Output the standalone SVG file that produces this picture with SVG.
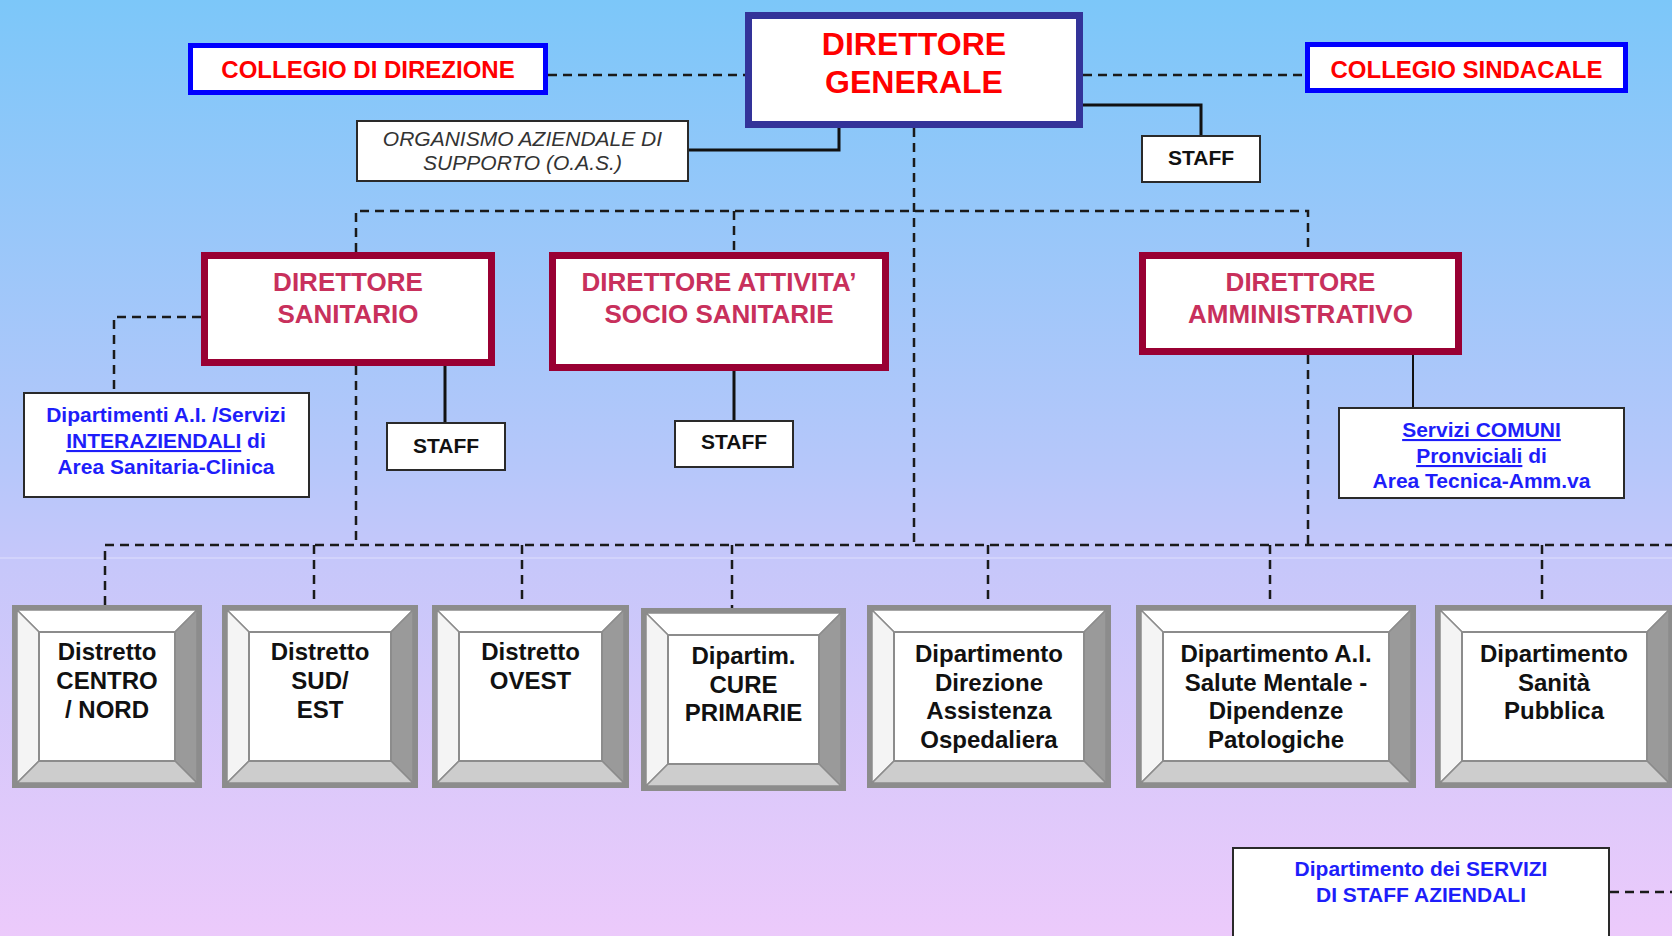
<svg xmlns="http://www.w3.org/2000/svg" width="1672" height="936" viewBox="0 0 1672 936">
<defs>
<linearGradient id="bg" x1="0" y1="0" x2="0" y2="1">
<stop offset="0" stop-color="#7cc7f9"/>
<stop offset="0.5" stop-color="#b6c7fa"/>
<stop offset="0.6" stop-color="#c6c7fa"/>
<stop offset="1" stop-color="#eccafb"/>
</linearGradient>
</defs>
<style>
text{font-family:"Liberation Sans",Arial,sans-serif;text-anchor:middle}
.dg{fill:#fff;stroke:#333399;stroke-width:7}
.col{fill:#fff;stroke:#0000ff;stroke-width:5}
.dir{fill:#fff;stroke:#990033;stroke-width:7}
.box{fill:#fff;stroke:#2a2a2a;stroke-width:2}
.red{fill:#ff0000;font-weight:bold}
.dirt{fill:#c8305c;font-weight:bold;font-size:26px}
.blk{fill:#111;font-weight:bold}
.blue{fill:#1e1efa;font-weight:bold;font-size:21px}
.it{fill:#333;font-style:italic;font-size:21px}
.bt{fill:#111;font-weight:bold;font-size:24px}
.frame{fill:#8c8c8c}
.bv{stroke:#8c8c8c;stroke-width:1.5;stroke-linejoin:round}
.bvt{fill:#ffffff}
.bvl{fill:#f4f4f4}
.bvr{fill:#9a9a9a}
.bvb{fill:#cdcdcd}
.face{fill:#fff;stroke:#8c8c8c;stroke-width:2}
.solid{fill:none;stroke:#111;stroke-width:3}
.thin{fill:none;stroke:#111;stroke-width:2}
.dash{fill:none;stroke:#1a1a1a;stroke-width:2.5;stroke-dasharray:9 6}
</style>
<rect x="0" y="0" width="1672" height="936" fill="url(#bg)"/>
<line x1="0" y1="558" x2="1672" y2="558" stroke="#ffffff" stroke-opacity="0.3" stroke-width="1.5"/>

<g id="connectors">
<path class="dash" d="M548 75H745"/>
<path class="dash" d="M1083 75H1305"/>
<path class="solid" d="M689 150H839V128"/>
<path class="solid" d="M1083 105H1201V135"/>
<path class="dash" d="M914 128V545"/>
<path class="dash" d="M356 252V211H1308V252"/>
<path class="dash" d="M734 211V252"/>
<path class="dash" d="M201 317H114V392"/>
<path class="solid" d="M445 366V422"/>
<path class="solid" d="M734 371V420"/>
<path class="thin" d="M1413 355V407"/>
<path class="dash" d="M356 366V545"/>
<path class="dash" d="M1308 355V545"/>
<path class="dash" d="M105 605V545H1672"/>
<path class="dash" d="M314 545V605"/>
<path class="dash" d="M522 545V605"/>
<path class="dash" d="M732 545V608"/>
<path class="dash" d="M988 545V605"/>
<path class="dash" d="M1270 545V605"/>
<path class="dash" d="M1542 545V605"/>
<path class="dash" d="M1610 892H1672"/>
</g>

<g id="direttore-generale">
<rect class="dg" x="748.5" y="15.5" width="331" height="109"/>
<text class="red" font-size="32" x="914" y="55">DIRETTORE</text>
<text class="red" font-size="32" x="914" y="93">GENERALE</text>
</g>
<g id="collegio-direzione">
<rect class="col" x="190.5" y="45.5" width="355" height="47"/>
<text class="red" font-size="24" x="368" y="78">COLLEGIO DI DIREZIONE</text>
</g>
<g id="collegio-sindacale">
<rect class="col" x="1307.5" y="44.5" width="318" height="46"/>
<text class="red" font-size="24" x="1466.5" y="78">COLLEGIO SINDACALE</text>
</g>
<g id="oas">
<rect class="box" x="357" y="121" width="331" height="60"/>
<text class="it" x="522.5" y="146">ORGANISMO AZIENDALE DI</text>
<text class="it" x="522.5" y="170">SUPPORTO (O.A.S.)</text>
</g>
<g id="staff-dg">
<rect class="box" x="1142" y="136" width="118" height="46"/>
<text class="blk" font-size="21" x="1201" y="165">STAFF</text>
</g>
<g id="direttore-sanitario">
<rect class="dir" x="204.5" y="255.5" width="287" height="107"/>
<text class="dirt" x="348" y="291">DIRETTORE</text>
<text class="dirt" x="348" y="323">SANITARIO</text>
</g>
<g id="direttore-socio-sanitarie">
<rect class="dir" x="552.5" y="255.5" width="333" height="112"/>
<text class="dirt" x="719" y="291">DIRETTORE ATTIVITA’</text>
<text class="dirt" x="719" y="323">SOCIO SANITARIE</text>
</g>
<g id="direttore-amministrativo">
<rect class="dir" x="1142.5" y="255.5" width="316" height="96"/>
<text class="dirt" x="1300.5" y="291">DIRETTORE</text>
<text class="dirt" x="1300.5" y="323">AMMINISTRATIVO</text>
</g>
<g id="dipartimenti-interaziendali">
<rect class="box" x="24" y="393" width="285" height="104"/>
<text class="blue" x="166" y="422">Dipartimenti A.I. /Servizi</text>
<text class="blue" x="166" y="448"><tspan text-decoration="underline">INTERAZIENDALI</tspan> di</text>
<text class="blue" x="166" y="474">Area Sanitaria-Clinica</text>
</g>
<g id="staff-sanitario">
<rect class="box" x="387" y="423" width="118" height="47"/>
<text class="blk" font-size="21" x="446" y="453">STAFF</text>
</g>
<g id="staff-socio">
<rect class="box" x="675" y="421" width="118" height="46"/>
<text class="blk" font-size="21" x="734" y="449">STAFF</text>
</g>
<g id="servizi-comuni">
<rect class="box" x="1339" y="408" width="285" height="90"/>
<text class="blue" x="1481.5" y="437"><tspan text-decoration="underline">Servizi COMUNI</tspan></text>
<text class="blue" x="1481.5" y="463"><tspan text-decoration="underline">Pronviciali</tspan> di</text>
<text class="blue" x="1481.5" y="488">Area Tecnica-Amm.va</text>
</g>

<g id="distretto-centro-nord">
<rect class="frame" x="12" y="605" width="190" height="183"/>
<polygon class="bv bvt" points="17,610 197,610 175,632 39,632"/>
<polygon class="bv bvl" points="17,610 39,632 39,761 17,783"/>
<polygon class="bv bvr" points="197,610 197,783 175,761 175,632"/>
<polygon class="bv bvb" points="17,783 39,761 175,761 197,783"/>
<rect class="face" x="39" y="632" width="136" height="129"/>
<text class="bt" x="107" y="660">Distretto</text>
<text class="bt" x="107" y="689">CENTRO</text>
<text class="bt" x="107" y="718">/ NORD</text>
</g>
<g id="distretto-sud-est">
<rect class="frame" x="222" y="605" width="196" height="183"/>
<polygon class="bv bvt" points="227,610 413,610 391,632 249,632"/>
<polygon class="bv bvl" points="227,610 249,632 249,761 227,783"/>
<polygon class="bv bvr" points="413,610 413,783 391,761 391,632"/>
<polygon class="bv bvb" points="227,783 249,761 391,761 413,783"/>
<rect class="face" x="249" y="632" width="142" height="129"/>
<text class="bt" x="320" y="660">Distretto</text>
<text class="bt" x="320" y="689">SUD/</text>
<text class="bt" x="320" y="718">EST</text>
</g>
<g id="distretto-ovest">
<rect class="frame" x="432" y="605" width="197" height="183"/>
<polygon class="bv bvt" points="437,610 624,610 602,632 459,632"/>
<polygon class="bv bvl" points="437,610 459,632 459,761 437,783"/>
<polygon class="bv bvr" points="624,610 624,783 602,761 602,632"/>
<polygon class="bv bvb" points="437,783 459,761 602,761 624,783"/>
<rect class="face" x="459" y="632" width="143" height="129"/>
<text class="bt" x="530.5" y="660">Distretto</text>
<text class="bt" x="530.5" y="689">OVEST</text>
</g>
<g id="cure-primarie">
<rect class="frame" x="641" y="608" width="205" height="183"/>
<polygon class="bv bvt" points="646,613 841,613 819,635 668,635"/>
<polygon class="bv bvl" points="646,613 668,635 668,764 646,786"/>
<polygon class="bv bvr" points="841,613 841,786 819,764 819,635"/>
<polygon class="bv bvb" points="646,786 668,764 819,764 841,786"/>
<rect class="face" x="668" y="635" width="151" height="129"/>
<text class="bt" x="743.5" y="664">Dipartim.</text>
<text class="bt" x="743.5" y="693">CURE</text>
<text class="bt" x="743.5" y="721">PRIMARIE</text>
</g>
<g id="assistenza-ospedaliera">
<rect class="frame" x="867" y="605" width="244" height="183"/>
<polygon class="bv bvt" points="872,610 1106,610 1084,632 894,632"/>
<polygon class="bv bvl" points="872,610 894,632 894,761 872,783"/>
<polygon class="bv bvr" points="1106,610 1106,783 1084,761 1084,632"/>
<polygon class="bv bvb" points="872,783 894,761 1084,761 1106,783"/>
<rect class="face" x="894" y="632" width="190" height="129"/>
<text class="bt" x="989" y="662">Dipartimento</text>
<text class="bt" x="989" y="691">Direzione</text>
<text class="bt" x="989" y="719">Assistenza</text>
<text class="bt" x="989" y="748">Ospedaliera</text>
</g>
<g id="salute-mentale">
<rect class="frame" x="1136" y="605" width="280" height="183"/>
<polygon class="bv bvt" points="1141,610 1411,610 1389,632 1163,632"/>
<polygon class="bv bvl" points="1141,610 1163,632 1163,761 1141,783"/>
<polygon class="bv bvr" points="1411,610 1411,783 1389,761 1389,632"/>
<polygon class="bv bvb" points="1141,783 1163,761 1389,761 1411,783"/>
<rect class="face" x="1163" y="632" width="226" height="129"/>
<text class="bt" x="1276" y="662">Dipartimento A.I.</text>
<text class="bt" x="1276" y="691">Salute Mentale -</text>
<text class="bt" x="1276" y="719">Dipendenze</text>
<text class="bt" x="1276" y="748">Patologiche</text>
</g>
<g id="sanita-pubblica">
<rect class="frame" x="1435" y="605" width="239" height="183"/>
<polygon class="bv bvt" points="1440,610 1669,610 1647,632 1462,632"/>
<polygon class="bv bvl" points="1440,610 1462,632 1462,761 1440,783"/>
<polygon class="bv bvr" points="1669,610 1669,783 1647,761 1647,632"/>
<polygon class="bv bvb" points="1440,783 1462,761 1647,761 1669,783"/>
<rect class="face" x="1462" y="632" width="185" height="129"/>
<text class="bt" x="1554" y="662">Dipartimento</text>
<text class="bt" x="1554" y="691">Sanità</text>
<text class="bt" x="1554" y="719">Pubblica</text>
</g>
<g id="servizi-staff-aziendali">
<rect class="box" x="1233" y="848" width="376" height="100"/>
<text class="blue" x="1421" y="876">Dipartimento dei SERVIZI</text>
<text class="blue" x="1421" y="902">DI STAFF AZIENDALI</text>
</g>
</svg>
